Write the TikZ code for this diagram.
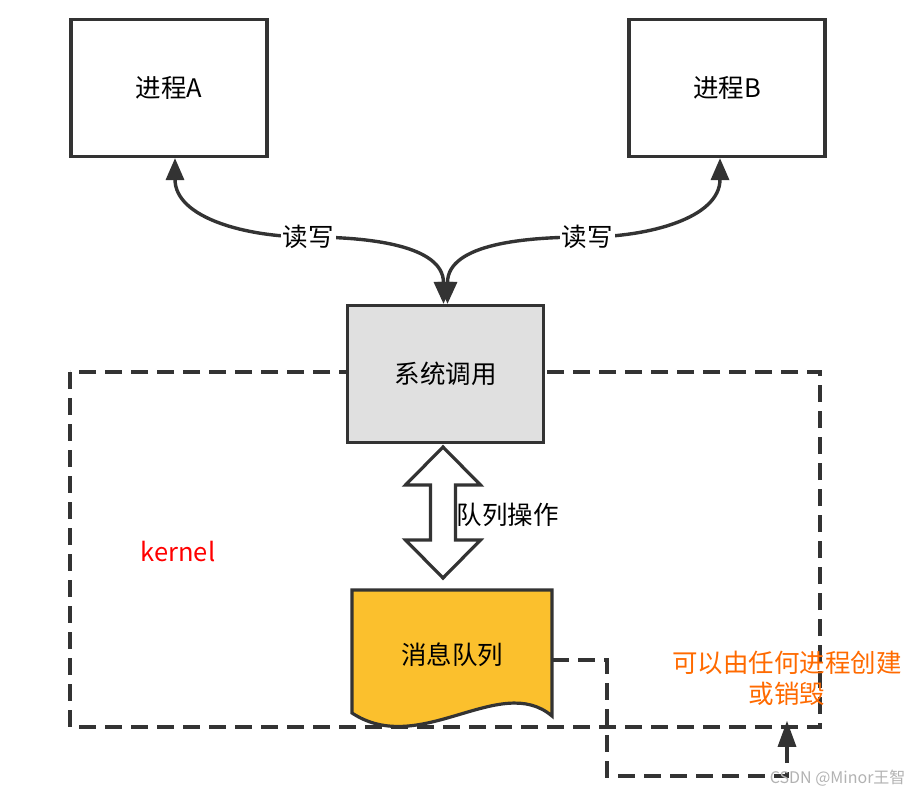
\documentclass[tikz,border=0pt]{standalone}
\usepackage{fontspec}
\setmainfont{Noto Sans CJK SC}
\usetikzlibrary{arrows.meta,positioning}
\definecolor{edge}{HTML}{333333}
\definecolor{callgray}{HTML}{E0E0E0}
\definecolor{queuegold}{HTML}{FBC02D}
\definecolor{noteorange}{HTML}{FF6A00}
\begin{document}
\begin{tikzpicture}[x=1pt,y=-1pt,
  font=\fontsize{25.5}{31}\selectfont,
  procbox/.style={draw=edge, line width=3.2pt, minimum width=196pt, minimum height=137pt},
  rw/.style={draw=edge, line width=3.4pt, {Triangle[length=22pt,width=18pt]}-{Triangle[length=22pt,width=19pt]}},
  lbl/.style={fill=white, inner sep=2pt},
  kdash/.style={draw=edge, line width=3.2pt, dash pattern=on 17pt off 9pt}]
\useasboundingbox (0,0) rectangle (923,797);

% kernel area
\draw[kdash] (70,372) rectangle (820,727);
\node[text=red] (kern) at (178,552) {kernel};

% processes and system call
\node[procbox] (A) at (169,88) {进程A};
\node[procbox] (B) at (727,88) {进程B};
\node[procbox, fill=callgray] (sys) at (445.5,374) {系统调用};

\coordinate (midA) at (308,237);
\coordinate (midB) at (587,237);
\draw[rw] ([xshift=6pt]A.south) to[out=-90,in=180] (midA) to[out=0,in=90] ([xshift=-2pt]sys.north);
\draw[rw] ([xshift=-7pt]B.south) to[out=-90,in=0] (midB) to[out=180,in=90] ([xshift=2pt]sys.north);
\node[lbl] (rwA) at (midA) {读写};
\node[lbl] (rwB) at (midB) {读写};

% queue operations
\coordinate (qop) at (443,512);
\draw[edge, line width=3.2pt, fill=white, line join=miter]
  (qop) ++(0,-65) -- ++(37.5,38) -- ++(-25,0) -- ++(0,55) -- ++(25,0)
  -- ++(-37.5,38) -- ++(-37.5,-38) -- ++(25,0) -- ++(0,-55) -- ++(-25,0) -- cycle;
\node[anchor=west] (qlbl) at (453,515) {队列操作};

% message queue
\draw[edge, line width=3.2pt, fill=queuegold]
  (352,590) -- (552,590) -- (552,716) .. controls (500,672) and (420,758) .. (352,713) -- cycle;
\node (mq) at (452,655) {消息队列};
\coordinate (mqr) at (552,660);

\node[text=noteorange, align=center] (note) at (787,678) {可以由任何进程创建\\或销毁};
\draw[kdash, -{Triangle[length=26pt,width=18pt]}]
  (mqr) -- (607,660) -- (607,776) -| ([yshift=-12pt]note.south);

\node[text=gray!60, font=\fontsize{16}{18}\selectfont, anchor=east] (mark) at (909,778) {CSDN @Minor王智};
\end{tikzpicture}
\end{document}
